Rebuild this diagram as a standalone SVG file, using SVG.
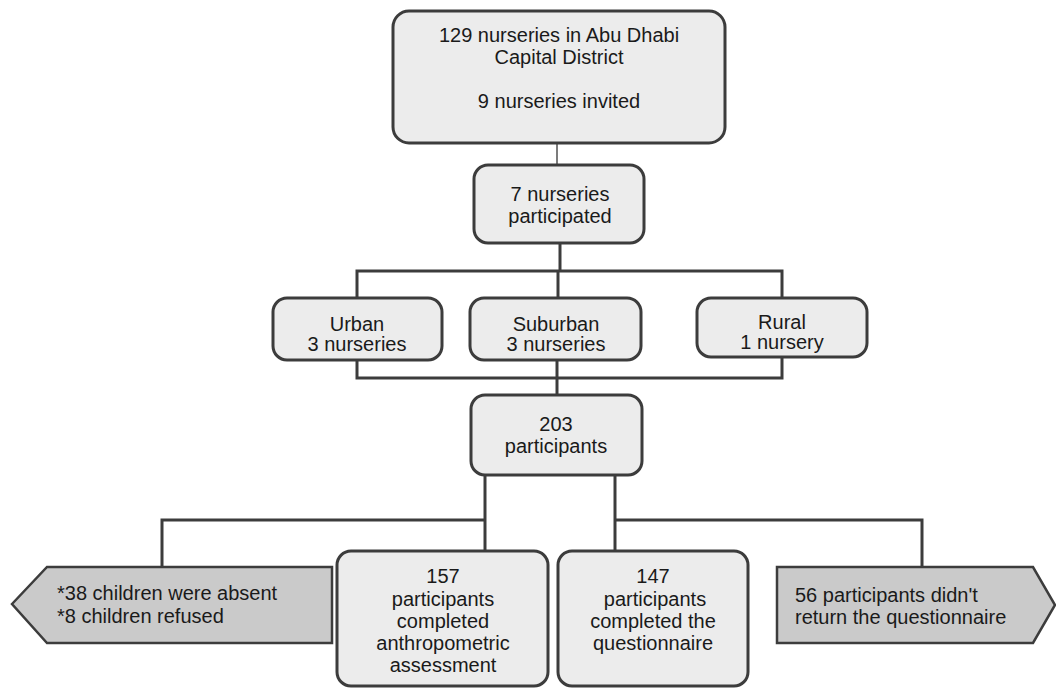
<svg xmlns="http://www.w3.org/2000/svg" width="1056" height="688" viewBox="0 0 1056 688">
<style>
.box{fill:#ececec;stroke:#3c3c3c;stroke-width:3}
.arr{fill:#cacaca;stroke:#3c3c3c;stroke-width:2.5;stroke-linejoin:miter}
.ln{fill:none;stroke:#3c3c3c;stroke-width:3}
.thin{fill:none;stroke:#505050;stroke-width:1.5}
text{font-family:"Liberation Sans",Arial,sans-serif;font-size:20px;fill:#1a1a1a}
.c{text-anchor:middle}
</style>
<rect width="1056" height="688" fill="#ffffff"/>
<g id="connectors">
<line class="thin" x1="557" y1="143" x2="557" y2="165"/>
<line class="ln" x1="560" y1="243" x2="560" y2="271"/>
<polyline class="ln" points="357,298 357,271 782,271 782,298"/>
<line class="ln" x1="558" y1="271" x2="558" y2="298"/>
<polyline class="ln" points="357,360 357,378 782,378 782,357"/>
<line class="ln" x1="557" y1="360" x2="557" y2="395"/>
<polyline class="ln" points="485,475 485,550"/>
<polyline class="ln" points="615,475 615,550"/>
<polyline class="ln" points="485,520 162,520 162,567"/>
<polyline class="ln" points="615,520 922,520 922,567"/>
</g>
<g id="n1">
<rect class="box" x="393" y="11" width="332" height="132" rx="16"/>
<text class="c" x="559" y="42">129 nurseries in Abu Dhabi</text>
<text class="c" x="559" y="64">Capital District</text>
<text class="c" x="559" y="108">9 nurseries invited</text>
</g>
<g id="n2">
<rect class="box" x="474" y="165" width="170" height="78" rx="14"/>
<text class="c" x="560" y="201">7 nurseries</text>
<text class="c" x="560" y="223">participated</text>
</g>
<g id="urban">
<rect class="box" x="273" y="298" width="169" height="62" rx="14"/>
<text class="c" x="357" y="331">Urban</text>
<text class="c" x="357" y="351">3 nurseries</text>
</g>
<g id="suburban">
<rect class="box" x="470" y="298" width="171" height="62" rx="14"/>
<text class="c" x="556" y="331">Suburban</text>
<text class="c" x="556" y="351">3 nurseries</text>
</g>
<g id="rural">
<rect class="box" x="697" y="298" width="170" height="59" rx="14"/>
<text class="c" x="782" y="329">Rural</text>
<text class="c" x="782" y="349">1 nursery</text>
</g>
<g id="n203">
<rect class="box" x="471" y="395" width="171" height="80" rx="14"/>
<text class="c" x="556" y="431">203</text>
<text class="c" x="556" y="453">participants</text>
</g>
<g id="excluded1">
<polygon class="arr" points="12,604 47,567 332,567 332,643 47,643"/>
<text x="57" y="600">*38 children were absent</text>
<text x="57" y="623">*8 children refused</text>
</g>
<g id="n157">
<rect class="box" x="337" y="551" width="211" height="135" rx="14"/>
<text class="c" x="443" y="583">157</text>
<text class="c" x="443" y="606">participants</text>
<text class="c" x="443" y="628">completed</text>
<text class="c" x="443" y="650">anthropometric</text>
<text class="c" x="443" y="672">assessment</text>
</g>
<g id="n147">
<rect class="box" x="558" y="551" width="190" height="135" rx="14"/>
<text class="c" x="653" y="583">147</text>
<text class="c" x="655" y="606">participants</text>
<text class="c" x="653" y="628">completed the</text>
<text class="c" x="653" y="650">questionnaire</text>
</g>
<g id="excluded2">
<polygon class="arr" points="777,567 1033,567 1055,605 1033,643 777,643"/>
<text x="795" y="602">56 participants didn't</text>
<text x="795" y="624">return the questionnaire</text>
</g>
</svg>
